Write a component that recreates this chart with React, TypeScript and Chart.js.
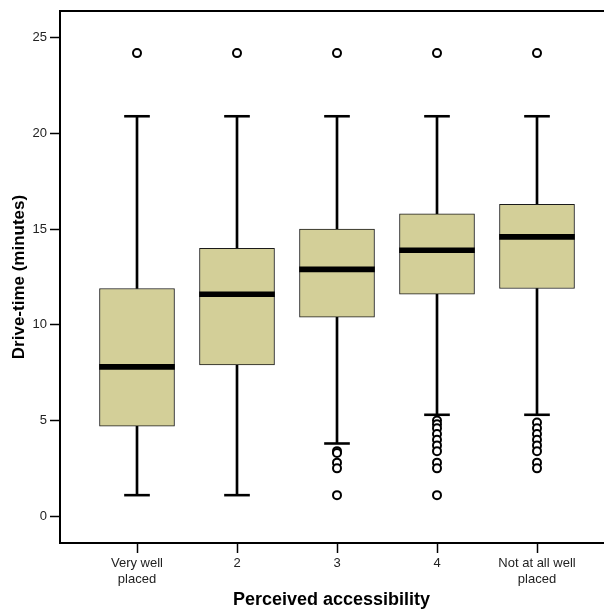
import React, { useEffect, useRef } from 'react';
import { Chart, registerables } from 'chart.js';

Chart.register(...registerables);

// ---- data ----
const categories: (string | string[])[] = [['Very well', 'placed'], '2', '3', '4', ['Not at all well', 'placed']];
const categoryPositions = [1, 2, 3, 4, 5];
const q1 = [4.7, 7.9, 10.4, 11.6, 11.9];
const medians = [7.8, 11.6, 12.9, 13.9, 14.6];
const q3 = [11.9, 14.0, 15.0, 15.8, 16.3];
const whiskerLow = [1.1, 1.1, 3.8, 5.3, 5.3];
const whiskerHigh = [20.9, 20.9, 20.9, 20.9, 20.9];
const outliers: number[][] = [
  [24.2],
  [24.2],
  [24.2, 3.4, 3.3, 2.8, 2.5, 1.1],
  [24.2, 5.0, 4.8, 4.6, 4.3, 4.0, 3.7, 3.4, 2.8, 2.5, 1.1],
  [24.2, 4.9, 4.6, 4.3, 4.0, 3.7, 3.4, 2.8, 2.5],
];
const yTicks = [0, 5, 10, 15, 20, 25];
const yTitle = 'Drive-time (minutes)';
const xTitle = 'Perceived accessibility';

// ---- style ----
const BOX_FILL = '#D3CF98';
const FONT = 'Arial, "Liberation Sans", sans-serif';
const MEDIAN_HALF = 0.13;
const CAP_HALF = 0.05;
const X_MIN = 0.23;
const X_MAX = 5.66;

export default function App() {
  const ref = useRef<HTMLCanvasElement | null>(null);

  useEffect(() => {
    if (!ref.current) return;
    const boxes = categoryPositions.map((x, i) => ({ x, y: [q1[i], q3[i]] }));
    const meds = categoryPositions.map((x, i) => ({ x, y: [medians[i] - MEDIAN_HALF, medians[i] + MEDIAN_HALF] }));
    const upStem = categoryPositions.map((x, i) => ({ x, y: [q3[i], whiskerHigh[i]] }));
    const lowStem = categoryPositions.map((x, i) => ({ x, y: [whiskerLow[i], q1[i]] }));
    const upCap = categoryPositions.map((x, i) => ({ x, y: [whiskerHigh[i] - CAP_HALF, whiskerHigh[i] + CAP_HALF] }));
    const lowCap = categoryPositions.map((x, i) => ({ x, y: [whiskerLow[i] - CAP_HALF, whiskerLow[i] + CAP_HALF] }));
    const outPts = categoryPositions.flatMap((x, i) => outliers[i].map((y) => ({ x, y })));

    const barBase = { grouped: false, borderSkipped: false as const };

    const chart = new Chart(ref.current, {
      type: 'bar',
      data: {
        datasets: [
          { ...barBase, data: meds as any, backgroundColor: '#000', borderWidth: 0, barThickness: 75, order: 0 },
          { type: 'scatter', data: outPts, pointRadius: 4, pointBorderWidth: 2, borderColor: '#000', backgroundColor: '#fff', pointBackgroundColor: '#fff', pointBorderColor: '#000', order: 0 } as any,
          { ...barBase, data: boxes as any, backgroundColor: BOX_FILL, borderColor: '#1a1a1a', borderWidth: 1, barThickness: 75, order: 1 },
          { ...barBase, data: upStem as any, backgroundColor: '#000', borderWidth: 0, barThickness: 2, order: 2 },
          { ...barBase, data: lowStem as any, backgroundColor: '#000', borderWidth: 0, barThickness: 2, order: 2 },
          { ...barBase, data: upCap as any, backgroundColor: '#000', borderWidth: 0, barThickness: 25, order: 2 },
          { ...barBase, data: lowCap as any, backgroundColor: '#000', borderWidth: 0, barThickness: 25, order: 2 },
        ] as any,
      },
      options: {
        animation: false,
        responsive: true,
        maintainAspectRatio: false,
        layout: { padding: { top: 11, right: 0, left: 0, bottom: 0 } },
        plugins: { legend: { display: false }, tooltip: { enabled: false } },
        scales: {
          x: {
            type: 'linear',
            position: 'bottom',
            offset: false,
            min: X_MIN,
            max: X_MAX,
            afterBuildTicks: (s: any) => {
              s.ticks = categoryPositions.map((v) => ({ value: v }));
            },
            afterFit: (s: any) => {
              s.height = 68;
              s.paddingLeft = 0;
              s.paddingRight = 0;
            },
            ticks: {
              autoSkip: false,
              maxRotation: 0,
              padding: 3,
              color: '#222',
              font: { family: FONT, size: 13 },
              callback: (_v: any, i: number) => categories[i] as any,
            },
            grid: { offset: false, drawOnChartArea: false, drawTicks: true, tickLength: 10, tickColor: '#000', tickWidth: 1.5 },
            border: { display: true, color: '#000', width: 2 },
            title: {
              display: true,
              text: xTitle,
              color: '#000',
              font: { family: FONT, size: 18, weight: 'bold' },
              padding: { top: 0, bottom: 0 },
            },
          },
          xTop: {
            type: 'linear',
            position: 'top',
            offset: false,
            min: X_MIN,
            max: X_MAX,
            ticks: { display: false },
            grid: { display: false, drawTicks: false, offset: false },
            border: { display: true, color: '#000', width: 2 },
            afterFit: (s: any) => {
              s.height = 0;
              s.paddingLeft = 0;
              s.paddingRight = 0;
            },
          },
          y: {
            type: 'linear',
            min: -1.4,
            max: 26.4,
            afterBuildTicks: (s: any) => {
              s.ticks = yTicks.map((v) => ({ value: v }));
            },
            afterFit: (s: any) => {
              s.width = 60;
              s.paddingTop = 0;
              s.paddingBottom = 0;
            },
            ticks: {
              padding: 3,
              color: '#222',
              font: { family: FONT, size: 13 },
            },
            grid: { drawOnChartArea: false, drawTicks: true, tickLength: 10, tickColor: '#000', tickWidth: 1.5 },
            border: { display: true, color: '#000', width: 2 },
            title: {
              display: true,
              text: yTitle,
              color: '#000',
              font: { family: FONT, size: 17, weight: 'bold' },
              padding: { top: 9, bottom: 0 },
            },
          },
        },
      } as any,
    });
    return () => chart.destroy();
  }, []);

  return (
    <div style={{ position: 'fixed', left: 0, top: 0, width: 609, height: 611, background: '#fff' }}>
      <canvas ref={ref} />
    </div>
  );
}
